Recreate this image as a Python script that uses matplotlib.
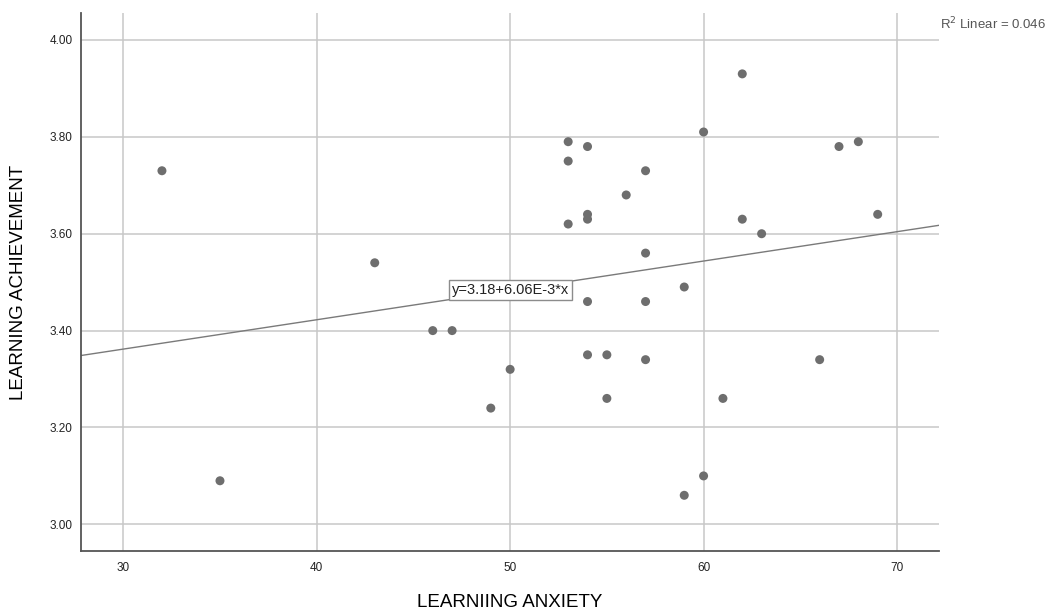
import matplotlib
matplotlib.use("Agg")
import matplotlib.pyplot as plt
import numpy as np

plt.rcParams['font.family'] = ['Liberation Sans', 'DejaVu Sans']

# Data
learning_anxiety = [32, 35, 43, 46, 47, 49, 50, 53, 53, 53, 54, 54, 54, 54, 54,
                    55, 55, 56, 57, 57, 57, 57, 59, 59, 60, 60, 61, 62, 62, 63,
                    66, 67, 68, 69]
learning_achievement = [3.73, 3.09, 3.54, 3.40, 3.40, 3.24, 3.32, 3.79, 3.75, 3.62,
                        3.78, 3.64, 3.63, 3.46, 3.35, 3.35, 3.26, 3.68, 3.73, 3.56,
                        3.46, 3.34, 3.49, 3.06, 3.81, 3.10, 3.26, 3.93, 3.63, 3.60,
                        3.34, 3.78, 3.79, 3.64]
fit_intercept = 3.18
fit_slope = 6.06e-3
r_squared = 0.046
x_ticks = [30, 40, 50, 60, 70]
y_ticks = [3.00, 3.20, 3.40, 3.60, 3.80, 4.00]
x_label = "LEARNIING ANXIETY"
y_label = "LEARNING ACHIEVEMENT"

fig = plt.figure(figsize=(10.48, 6.11), dpi=100)
ax = fig.add_axes([0.077, 0.0982, 0.819, 0.880])

xmin, xmax = 27.80, 72.17
ymin, ymax = 2.945, 4.055
ax.set_xlim(xmin, xmax)
ax.set_ylim(ymin, ymax)

ax.set_xticks(x_ticks)
ax.set_yticks(y_ticks)
ax.set_xticklabels([str(t) for t in x_ticks])
ax.set_yticklabels([f"{t:.2f}" for t in y_ticks])
ax.tick_params(length=0, labelsize=8.5, colors='#222222')
ax.tick_params(axis='y', pad=6)
ax.tick_params(axis='x', pad=8)

ax.grid(True, color='#c8c8c8', linewidth=1.1)
ax.set_axisbelow(True)

for s in ['top', 'right']:
    ax.spines[s].set_visible(False)
for s in ['left', 'bottom']:
    ax.spines[s].set_color('#555555')
    ax.spines[s].set_linewidth(1.3)

# Regression line
xl = np.array([xmin, xmax])
ax.plot(xl, fit_intercept + fit_slope * xl, color='#7a7a7a', linewidth=1.0, zorder=2)

# Points
ax.scatter(learning_anxiety, learning_achievement, s=42, color='#6e6e6e',
           edgecolors='none', zorder=3)

# Equation label on the line
lx = 50
ax.text(lx, fit_intercept + fit_slope * lx, "y=3.18+6.06E-3*x", fontsize=10.5,
        ha='center', va='center', color='#222222', zorder=4,
        bbox=dict(boxstyle='square,pad=0.2', facecolor='white',
                  edgecolor='#8c8c8c', linewidth=1.0))

ax.set_xlabel(x_label, fontsize=13.5, color='#000000')
ax.set_ylabel(y_label, fontsize=13.5, color='#000000')
ax.xaxis.label.set_va('center')
ax.yaxis.label.set_va('center')
ax.xaxis.set_label_coords(0.5, -0.095)
ax.yaxis.set_label_coords(-0.072, 0.5)

fig.text(0.897, 0.961, r"R$^2$ Linear = " + f"{r_squared:.3f}", fontsize=9.5,
         color='#555555', ha='left', va='center')

fig.savefig("out.png", dpi=100, facecolor='white')
